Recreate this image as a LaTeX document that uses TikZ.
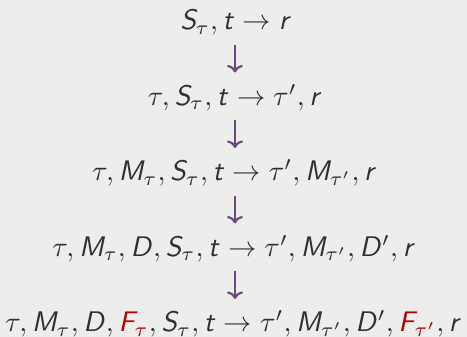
\documentclass[tikz,border=0pt]{standalone}
\usepackage{xcolor}
\usetikzlibrary{arrows.meta}
\DeclareSymbolFont{sfletters}{OT1}{cmss}{m}{sl}
\DeclareMathSymbol{S}{\mathalpha}{sfletters}{`S}
\DeclareMathSymbol{M}{\mathalpha}{sfletters}{`M}
\DeclareMathSymbol{D}{\mathalpha}{sfletters}{`D}
\DeclareMathSymbol{F}{\mathalpha}{sfletters}{`F}
\DeclareMathSymbol{t}{\mathalpha}{sfletters}{`t}
\DeclareMathSymbol{r}{\mathalpha}{sfletters}{`r}
\definecolor{bgc}{HTML}{EDEDEB}
\definecolor{txt}{HTML}{2F2F2F}
\definecolor{alertred}{HTML}{B30000}
\definecolor{arrpurple}{HTML}{6E4B7E}
\newcommand{\al}[1]{\textcolor{alertred}{#1}}
\begin{document}
\begin{tikzpicture}[x=1pt,y=1pt,
  line/.style={anchor=base, inner sep=0pt, text=txt, scale=2.83, transform shape},
  arr/.style={draw=arrpurple, line width=2.2pt, -{Computer Modern Rightarrow[length=7.5pt,width=16pt,line width=2.2pt]}}]
  \fill[bgc] (0,0) rectangle (467,337);
  \useasboundingbox (0,0) rectangle (467,337);
  \node[line] (l1) at (236,307) {$S_\tau, t \to r$};
  \node[line] (l2) at (235,231.5) {$\tau, S_\tau, t \to \tau', r$};
  \node[line] (l3) at (234.5,156) {$\tau, M_\tau, S_\tau, t \to \tau', M_{\tau'}, r$};
  \node[line] (l4) at (234,80.5) {$\tau, M_\tau, D, S_\tau, t \to \tau', M_{\tau'}, D', r$};
  \node[line] (l5) at (233.5,5) {$\tau, M_\tau, D, \al{F_\tau}, S_\tau, t \to \tau', M_{\tau'}, D', \al{F_{\tau'}}, r$};
  \draw[arr] ([yshift=-15pt]l1.base -| 235,0) -- ([yshift=33pt]l2.base -| 235,0);
  \draw[arr] ([yshift=-15pt]l2.base -| 235,0) -- ([yshift=33pt]l3.base -| 235,0);
  \draw[arr] ([yshift=-15pt]l3.base -| 235,0) -- ([yshift=33pt]l4.base -| 235,0);
  \draw[arr] ([yshift=-15pt]l4.base -| 235,0) -- ([yshift=33pt]l5.base -| 235,0);
\end{tikzpicture}
\end{document}
